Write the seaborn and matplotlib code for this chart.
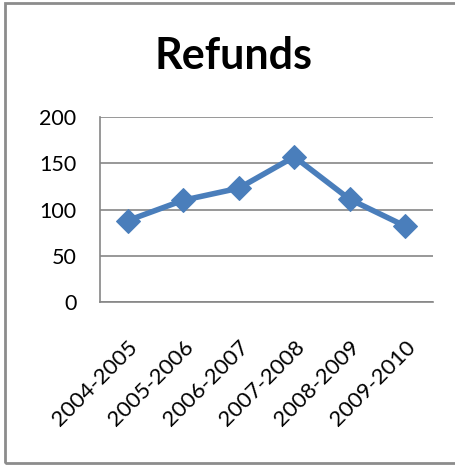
import matplotlib
matplotlib.use("Agg")
import matplotlib.pyplot as plt
import matplotlib.patches as mpatches
from matplotlib.ticker import FixedLocator, NullFormatter
import seaborn as sns
import pandas as pd

# Refund counts per fiscal year
years = ["2004-2005", "2005-2006", "2006-2007", "2007-2008", "2008-2009", "2009-2010"]
refunds = [88, 110, 123, 157, 111, 82]
y_ticks = [0, 50, 100, 150, 200]

df = pd.DataFrame({"year": years, "refunds": refunds})

sns.set_style("white")
plt.rcParams["font.family"] = ["Lato", "DejaVu Sans"]
plt.rcParams["text.color"] = "black"
plt.rcParams["xtick.labelcolor"] = "black"
plt.rcParams["ytick.labelcolor"] = "black"

W, H = 455, 466
fig = plt.figure(figsize=(W / 100, H / 100), dpi=100)
ax = fig.add_axes([100 / W, 1 - 302 / H, 333 / W, 185 / H])

line_color = "#4a7ebb"
sns.lineplot(data=df, x="year", y="refunds", ax=ax, sort=False,
             color=line_color, linewidth=4, marker="D", markersize=12.5,
             markeredgecolor=line_color, markerfacecolor=line_color)

ax.set_xlim(-0.5, len(years) - 0.5)
ax.set_ylim(0, 200)
ax.set_yticks(y_ticks)
ax.set_yticklabels([str(v) for v in y_ticks], fontsize=15.5)
ax.yaxis.grid(True, color="#868686", linewidth=1.2)
ax.set_axisbelow(True)

ax.set_xticks(range(len(years)))
ax.set_xticklabels(years, rotation=45, ha="right", rotation_mode="anchor", fontsize=16)
ax.tick_params(axis="x", which="major", length=0, pad=25, labelcolor="black")
ax.xaxis.set_minor_locator(FixedLocator([i - 0.5 for i in range(len(years) + 1)]))
ax.xaxis.set_minor_formatter(NullFormatter())
ax.tick_params(axis="x", which="minor", length=5, width=1.2, color="#868686", direction="out")
ax.tick_params(axis="y", which="major", length=5, width=1.2, color="#868686", direction="out",
               pad=12, labelcolor="black")

for side in ["top", "right"]:
    ax.spines[side].set_visible(False)
for side in ["left", "bottom"]:
    ax.spines[side].set_color("#868686")
    ax.spines[side].set_linewidth(1.2)

ax.set_xlabel("")
ax.set_ylabel("")

fig.text(234 / W, 1 - 56 / H, "Refunds", ha="center", va="center",
         fontsize=31, fontweight="bold", color="black")

# Outer chart frame
frame = mpatches.Rectangle((5 / W, 1 - 463 / H), (W + 10) / W, (463 - 3) / H,
                           transform=fig.transFigure, fill=False,
                           edgecolor="#8c8c8c", linewidth=2, clip_on=False)
fig.patches.append(frame)

fig.savefig("out.png", dpi=100)
